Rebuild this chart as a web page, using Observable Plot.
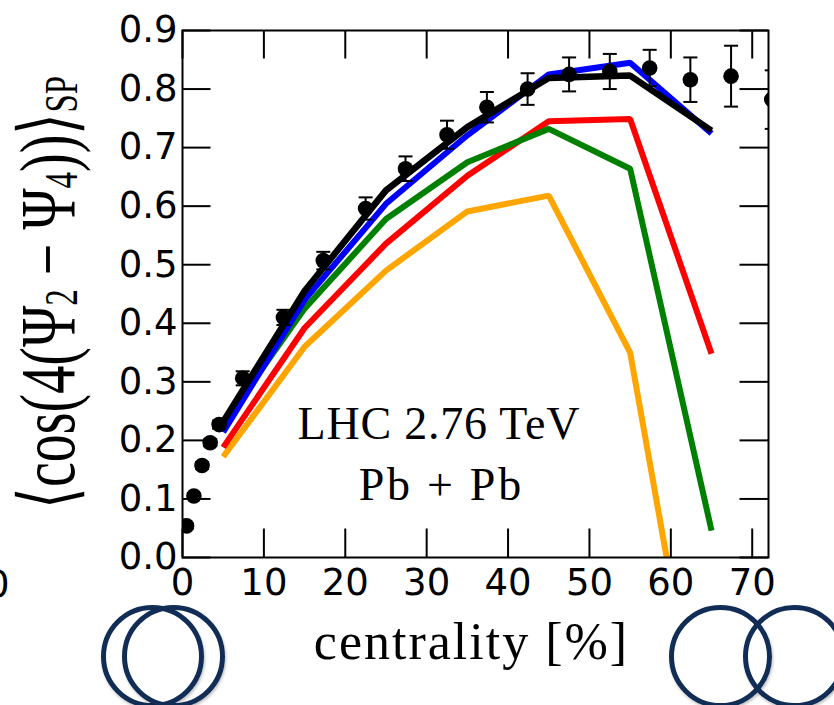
<!DOCTYPE html>
<html><head><meta charset="utf-8">
<script src="https://cdn.jsdelivr.net/npm/d3@7"></script>
<script src="https://cdn.jsdelivr.net/npm/@observablehq/plot@0.6"></script>
<style>
html,body{margin:0;padding:0;background:#fff;width:834px;height:705px;overflow:hidden;position:relative}
#chart{position:absolute;left:0;top:0}
.ring{position:absolute;box-sizing:border-box;width:103px;height:103px;border:5px solid #112d55;border-radius:50%;box-shadow:1px 2px 3px rgba(0,0,0,0.25)}
.cut{position:absolute;font-family:"DejaVu Sans";font-size:37px;line-height:1;color:#000}
</style></head><body>
<div id="chart"></div>
<div class="ring" style="left:101px;top:605px"></div>
<div class="ring" style="left:122px;top:605px"></div>
<div class="ring" style="left:669px;top:605px"></div>
<div class="ring" style="left:743px;top:605px"></div>
<div class="cut" style="left:-14px;top:566px">0</div>
<script>
// Measured data (points with statistical errors)
const dataCentrality = [0.5, 1.4, 2.4, 3.4, 4.5, 7.4, 12.4, 17.3, 22.5, 27.4, 32.5, 37.4, 42.4, 47.5, 52.5, 57.4, 62.4, 67.4, 72.4];
const dataValue = [0.054, 0.105, 0.157, 0.196, 0.227, 0.306, 0.410, 0.507, 0.596, 0.664, 0.722, 0.769, 0.800, 0.825, 0.830, 0.836, 0.816, 0.822, 0.782];
const dataError = [0.005, 0.005, 0.006, 0.006, 0.007, 0.012, 0.013, 0.015, 0.019, 0.021, 0.024, 0.026, 0.027, 0.029, 0.030, 0.031, 0.038, 0.052, 0.050];

// Model curves
const modelCentrality = [5, 15, 25, 35, 45, 55, 65];
const orangeValues = [0.172, 0.360, 0.490, 0.591, 0.618, 0.350, -0.430];
const redValues    = [0.188, 0.392, 0.536, 0.652, 0.745, 0.749, 0.348];
const greenValues  = [0.228, 0.425, 0.578, 0.675, 0.732, 0.664, 0.046];
const blueValues   = [0.214, 0.440, 0.604, 0.721, 0.825, 0.845, 0.724];
const blackValues  = [0.232, 0.455, 0.627, 0.735, 0.819, 0.823, 0.729];

const xTicks = [0, 10, 20, 30, 40, 50, 60, 70];
const yTicks = [0.0, 0.1, 0.2, 0.3, 0.4, 0.5, 0.6, 0.7, 0.8, 0.9];

const annotations = [
  {x: 31.5, y: 0.227, text: "LHC 2.76 TeV", spacing: 0.8},
  {x: 31.8, y: 0.123, text: "Pb + Pb", spacing: 2.7}
];
const xLabel = "centrality [%]";

const W = 834, H = 705, mL = 182, mR = 66, mT = 30, mB = 148;
const plotW = W - mL - mR, plotH = H - mT - mB, tickLen = 28.5;

const points = dataCentrality.map((c, i) => ({c, v: dataValue[i], e: dataError[i]}));
const models = [
  {color: "#ffa500", values: orangeValues},
  {color: "#ff0000", values: redValues},
  {color: "#008000", values: greenValues},
  {color: "#0000ff", values: blueValues},
  {color: "#000000", values: blackValues, width: 6.5}
];
const capSymbol = {draw(ctx) { ctx.moveTo(-7, 0); ctx.lineTo(7, 0); }};

const chart = Plot.plot({
  width: W, height: H,
  marginLeft: mL, marginRight: mR, marginTop: mT, marginBottom: mB,
  x: {domain: [0, 72]},
  y: {domain: [0, 0.9]},
  style: {fontFamily: "DejaVu Sans", color: "black", background: "white"},
  marks: [
    ...models.map(m => Plot.line(m.values, {
      x: (d, i) => modelCentrality[i], y: d => d,
      stroke: m.color, strokeWidth: m.width || 6,
      strokeLinejoin: "miter", strokeLinecap: "butt", clip: true
    })),
    Plot.ruleX(points, {x: "c", y1: d => d.v - d.e, y2: d => d.v + d.e, stroke: "black", strokeWidth: 2, clip: true}),
    Plot.dot(points, {x: "c", y: d => d.v + d.e, symbol: capSymbol, stroke: "black", strokeWidth: 2, fill: "none", clip: true}),
    Plot.dot(points, {x: "c", y: d => d.v - d.e, symbol: capSymbol, stroke: "black", strokeWidth: 2, fill: "none", clip: true}),
    Plot.dot(points, {x: "c", y: "v", r: 7.8, fill: "black", stroke: "none", clip: true}),
    Plot.text(annotations, {x: "x", y: "y", text: "text", fontFamily: "Liberation Serif", fontSize: 46, fill: "black"}),
    Plot.text([xLabel], {frameAnchor: "bottom", lineAnchor: "middle", dx: -4, dy: 85, fontFamily: "Liberation Serif", fontSize: 52, fill: "black"}),
    Plot.ruleY(yTicks, {insetRight: plotW - tickLen, stroke: "black", strokeWidth: 2}),
    Plot.ruleY(yTicks, {insetLeft: plotW - tickLen, stroke: "black", strokeWidth: 2}),
    Plot.ruleX(xTicks, {insetTop: plotH - tickLen, stroke: "black", strokeWidth: 2}),
    Plot.ruleX(xTicks, {insetBottom: plotH - tickLen, stroke: "black", strokeWidth: 2}),
    Plot.frame({stroke: "black", strokeWidth: 2}),
    Plot.axisX(xTicks, {tickSize: 0, tickPadding: 11, fontSize: 37, tickFormat: d => String(d), label: null}),
    Plot.axisY(yTicks, {tickSize: 0, tickPadding: 5, fontSize: 37, tickFormat: d => d.toFixed(1), label: null})
  ]
});
document.getElementById("chart").appendChild(chart);

const svg = d3.select(chart);
// letter spacing to mimic the wider Computer Modern text
svg.selectAll("text").each(function () {
  const s = this.textContent;
  if (s === xLabel) d3.select(this).style("letter-spacing", "2px");
  const a = annotations.find(d => d.text === s);
  if (a) d3.select(this).style("letter-spacing", a.spacing + "px");
});

// Y-axis label (math-style, rotated)
const yl = svg.append("text")
  .attr("transform", "translate(74,292.5) rotate(-90) scale(1,1.4)")
  .attr("text-anchor", "middle")
  .attr("fill", "black")
  .attr("font-family", "Liberation Serif")
  .attr("font-size", 56);
const parts = [
  {t: "\u27E8cos(4(\u03A8"}, {t: "2", sub: true}, {t: " \u2212 \u03A8"}, {t: "4", sub: true},
  {t: "))\u27E9"}, {t: "SP", sub: true}
];
let shifted = false;
for (const p of parts) {
  const ts = yl.append("tspan").text(p.t);
  if (p.sub) ts.attr("font-size", 33);
  if (p.sub && !shifted) { ts.attr("dy", 2); shifted = true; }
  else if (!p.sub && shifted) { ts.attr("dy", -2); shifted = false; }
}
</script>
</body></html>
